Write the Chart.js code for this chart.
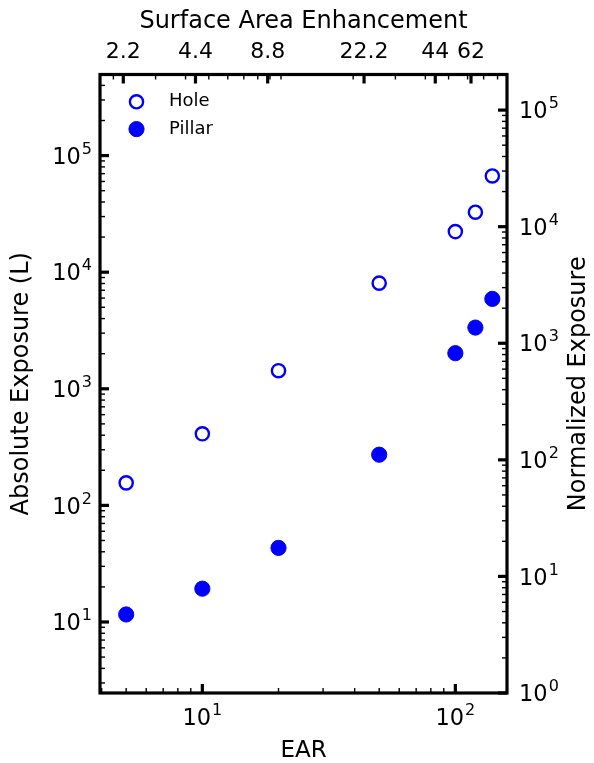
<!DOCTYPE html>
<html>
<head>
<meta charset="utf-8">
<script src="https://cdn.jsdelivr.net/npm/chart.js@4.4.1/dist/chart.umd.min.js"></script>
<style>
  html, body { margin: 0; padding: 0; background: #ffffff; }
  #wrap { width: 594px; height: 763px; position: relative; }
</style>
</head>
<body>
<div id="wrap"><canvas id="c"></canvas></div>
<script>
// ---- data ----
const earValues      = [5, 10, 20, 50, 100, 120, 140];
const holeExposure   = [156, 411, 1430, 8050, 22300, 32700, 66900];
const pillarExposure = [11.6, 19.3, 43.2, 272, 2020, 3350, 5900];
const seriesNames    = ['Hole', 'Pillar'];

// ---- tick labels ----
const earTickValues  = [10, 100];
const absTickValues  = [10, 100, 1000, 10000, 100000];
const normTickValues = [1, 10, 100, 1000, 10000, 100000];
const saeTickValues  = [2.2, 4.4, 8.8, 22.2, 44, 62];
const saeTickLabels  = ['2.2', '4.4', '8.8', '22.2', '44', '62'];

const axisTitles = {
  x: 'EAR',
  x2: 'Surface Area Enhancement',
  y: 'Absolute Exposure (L)',
  y2: 'Normalized Exposure'
};

const FONT = 'DejaVu Sans';
Chart.defaults.font.family = FONT;
Chart.defaults.color = '#000000';

const BLUE = '#0000ff';
const BASE_PX = 22.5;   // "10" size
const EXP_PX = 16;      // exponent size

function fixedTicks(values) {
  return function (scale) { scale.ticks = values.map(v => ({ value: v })); };
}

function minorValues(min, max, majors) {
  const out = [];
  const e0 = Math.floor(Math.log10(min)) - 1;
  const e1 = Math.ceil(Math.log10(max)) + 1;
  for (let e = e0; e <= e1; e++) {
    for (let k = 1; k <= 9; k++) {
      const v = k * Math.pow(10, e);
      if (v <= min * 1.0001 || v >= max * 0.9999) continue;
      if (majors.some(m => Math.abs(m - v) / m < 1e-6)) continue;
      out.push(v);
    }
  }
  return out;
}

// draws "10" with a raised exponent; (x, cy) = anchor and vertical centre of the digits
function drawPowerLabel(ctx, value, x, cy, align) {
  const exp = String(Math.round(Math.log10(value)));
  ctx.textBaseline = 'alphabetic';
  ctx.textAlign = 'left';
  ctx.font = BASE_PX + 'px "' + FONT + '"';
  const wBase = ctx.measureText('10').width;
  ctx.font = EXP_PX + 'px "' + FONT + '"';
  const wExp = ctx.measureText(exp).width;
  const total = wBase + 1 + wExp;
  let x0 = x;
  if (align === 'right') x0 = x - total;
  else if (align === 'center') x0 = x - total / 2;
  const baseline = cy + 0.3645 * BASE_PX;
  ctx.font = BASE_PX + 'px "' + FONT + '"';
  ctx.fillText('10', x0, baseline);
  ctx.font = EXP_PX + 'px "' + FONT + '"';
  ctx.fillText(exp, x0 + wBase + 1, baseline - 10);
}

const frameTicksPlugin = {
  id: 'frameTicks',
  afterDatasetsDraw(chart) {
    const ctx = chart.ctx;
    const a = chart.chartArea;
    ctx.save();
    ctx.strokeStyle = '#000000';
    ctx.lineCap = 'butt';
    const defs = [
      { id: 'x',  majors: earTickValues,  side: 'bottom' },
      { id: 'x2', majors: saeTickValues,  side: 'top' },
      { id: 'y',  majors: absTickValues,  side: 'left' },
      { id: 'y2', majors: normTickValues, side: 'right' }
    ];
    defs.forEach(d => {
      const s = chart.scales[d.id];
      const minors = minorValues(s.min, s.max, d.majors);
      const drawTick = (v, len, w) => {
        const p = s.getPixelForValue(v);
        ctx.lineWidth = w;
        ctx.beginPath();
        if (d.side === 'bottom') { ctx.moveTo(p, a.bottom); ctx.lineTo(p, a.bottom - len); }
        else if (d.side === 'top') { ctx.moveTo(p, a.top); ctx.lineTo(p, a.top + len); }
        else if (d.side === 'left') { ctx.moveTo(a.left, p); ctx.lineTo(a.left + len, p); }
        else { ctx.moveTo(a.right, p); ctx.lineTo(a.right - len, p); }
        ctx.stroke();
      };
      minors.forEach(v => drawTick(v, 5, 1.4));
      d.majors.forEach(v => { if (v >= s.min * 0.999 && v <= s.max * 1.001) drawTick(v, 9, 3.2); });
    });
    // frame
    ctx.lineWidth = 3.2;
    ctx.lineJoin = 'miter';
    ctx.strokeRect(a.left, a.top, a.right - a.left, a.bottom - a.top);

    // power-of-ten tick labels on the bottom, left and right axes
    ctx.fillStyle = '#000000';
    const sx = chart.scales.x, sy = chart.scales.y, sy2 = chart.scales.y2;
    earTickValues.forEach(v => drawPowerLabel(ctx, v, sx.getPixelForValue(v), a.bottom + 24, 'center'));
    absTickValues.forEach(v => drawPowerLabel(ctx, v, a.left - 8, sy.getPixelForValue(v), 'right'));
    normTickValues.forEach(v => drawPowerLabel(ctx, v, a.right + 12, sy2.getPixelForValue(v), 'left'));

    // right-hand axis title, reading bottom to top
    ctx.font = '24px "' + FONT + '"';
    ctx.textAlign = 'center';
    ctx.textBaseline = 'middle';
    ctx.translate(579, (sy2.top + sy2.bottom) / 2);
    ctx.rotate(-Math.PI / 2);
    ctx.fillText(axisTitles.y2, 0, 0);
    ctx.restore();

    // legend, inside the axes at top-left
    ctx.save();
    chart.data.datasets.forEach((ds, i) => {
      const cx = a.left + 36.5;
      const cy = a.top + 27.3 + i * 27.3;
      ctx.beginPath();
      ctx.arc(cx, cy, ds.pointRadius, 0, Math.PI * 2);
      ctx.fillStyle = ds.backgroundColor;
      ctx.fill();
      ctx.lineWidth = ds.borderWidth;
      ctx.strokeStyle = ds.borderColor;
      ctx.stroke();
      ctx.fillStyle = '#000000';
      ctx.font = '18px "' + FONT + '"';
      ctx.textAlign = 'left';
      ctx.textBaseline = 'middle';
      ctx.fillText(ds.label, a.left + 69, cy);
    });
    ctx.restore();
  }
};

const tickFont = { size: 22, lineHeight: 1 };
const titleFont = { size: 24, lineHeight: 1 };

new Chart(document.getElementById('c'), {
  type: 'scatter',
  data: {
    datasets: [
      {
        label: seriesNames[0],
        data: earValues.map((x, i) => ({ x: x, y: holeExposure[i] })),
        pointStyle: 'circle',
        pointRadius: 6.6,
        pointHoverRadius: 6.6,
        backgroundColor: '#ffffff',
        borderColor: BLUE,
        borderWidth: 2.4,
        xAxisID: 'x',
        yAxisID: 'y'
      },
      {
        label: seriesNames[1],
        data: earValues.map((x, i) => ({ x: x, y: pillarExposure[i] })),
        pointStyle: 'circle',
        pointRadius: 7.6,
        pointHoverRadius: 7.6,
        backgroundColor: BLUE,
        borderColor: BLUE,
        borderWidth: 1,
        xAxisID: 'x',
        yAxisID: 'y'
      }
    ]
  },
  options: {
    responsive: true,
    maintainAspectRatio: false,
    animation: false,
    events: [],
    layout: { padding: 0 },
    plugins: {
      legend: { display: false },
      tooltip: { enabled: false }
    },
    scales: {
      x: {
        type: 'logarithmic',
        position: 'bottom',
        min: 3.94,
        max: 160,
        afterBuildTicks: fixedTicks(earTickValues),
        afterFit(s) { s.height = 70; },
        grid: { display: false, drawTicks: false },
        border: { display: false },
        ticks: { display: false },
        title: { display: true, text: axisTitles.x, font: { size: 23, lineHeight: 1 }, padding: { top: 0, bottom: 0 } }
      },
      x2: {
        type: 'logarithmic',
        position: 'top',
        min: 1.759,
        max: 87.6,
        afterBuildTicks: fixedTicks(saeTickValues),
        afterFit(s) { s.height = 74.5; },
        grid: { display: false, drawTicks: false },
        border: { display: false },
        ticks: { font: tickFont, padding: 11, maxRotation: 0, autoSkip: false,
                 callback: (v) => { const i = saeTickValues.indexOf(v); return i >= 0 ? saeTickLabels[i] : ''; } },
        title: { display: true, text: axisTitles.x2, font: titleFont, padding: { top: 10, bottom: 0 } }
      },
      y: {
        type: 'logarithmic',
        position: 'left',
        min: 2.46,
        max: 496000,
        afterBuildTicks: fixedTicks(absTickValues),
        afterFit(s) { s.width = 100; },
        grid: { display: false, drawTicks: false },
        border: { display: false },
        ticks: { display: false },
        title: { display: true, text: axisTitles.y, font: titleFont, padding: { top: 10, bottom: 0 } }
      },
      y2: {
        type: 'logarithmic',
        position: 'right',
        min: 1,
        max: 202000,
        afterBuildTicks: fixedTicks(normTickValues),
        afterFit(s) { s.width = 87; },
        grid: { display: false, drawTicks: false },
        border: { display: false },
        ticks: { display: false },
        title: { display: false }
      }
    }
  },
  plugins: [frameTicksPlugin]
});
</script>
</body>
</html>
